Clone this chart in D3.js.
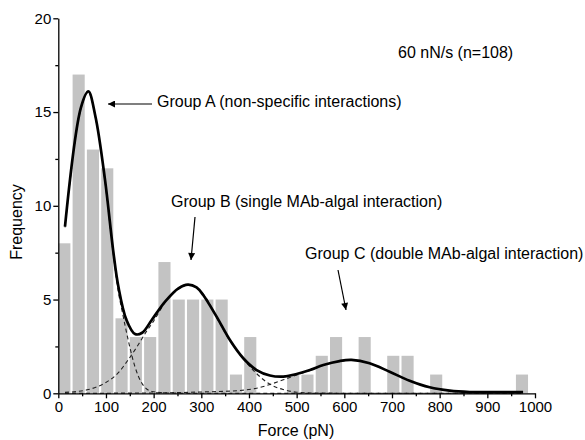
<!DOCTYPE html>
<html>
<head>
<meta charset="utf-8">
<script src="https://cdn.jsdelivr.net/npm/d3@7"></script>
<style>
  html, body { margin: 0; padding: 0; background: #fff; }
  svg { display: block; }
  text { font-family: "Liberation Sans", Arial, sans-serif; fill: #000; }
</style>
</head>
<body>
<svg id="chart" width="585" height="440"></svg>
<script>
// ---- data ----
const binCenters = [15,45,75,105,135,165,195,225,255,285,315,345,375,405,435,465,495,525,555,585,615,645,675,705,735,765,795,825,855,885,915,945,975];
const frequencies = [8,17,13,12,4,3,3,7,5,5,5,5,1,3,0,0,1,1,2,3,0,3,0,2,2,0,1,0,0,0,0,0,1];
const binWidth = 30;

const fitForce = [14,47.6,63,78,98,115,126,143,161,176,196,224,252,272,290,304,332,360,388,416,444,472,500,528,556,590,615,653,695,737,779,821,863,920,975];
const fitFreq  = [8.89,15.25,16.1,14.75,11.38,7.64,5.69,3.91,3.16,3.23,3.91,4.89,5.6,5.8,5.65,5.24,4.09,2.84,1.87,1.24,0.95,0.89,1.03,1.24,1.51,1.72,1.78,1.6,1.15,0.67,0.32,0.14,0.07,0.06,0.07];

const groupAForce = [14,47.6,63,78,98,115,126,133,147,161,175,196,230,300,500,700,975];
const groupAFreq  = [8.85,15.2,16.05,14.7,11.3,7.5,5.4,4.5,2.8,1.4,0.55,0.1,0.02,0,0,0,0];

const groupBForce = [14,40,63,98,126,147,168,185,200,224,252,273,290,307,332,360,391,416,444,472,500,550,700,975];
const groupBFreq  = [0.05,0.1,0.2,0.55,1.1,1.8,2.6,3.3,3.85,4.85,5.55,5.78,5.62,5.2,4.05,2.8,1.75,1.05,0.48,0.2,0.06,0.01,0,0];

const groupCForce = [14,200,300,380,416,444,472,500,528,556,590,615,653,695,737,779,821,863,920,975];
const groupCFreq  = [0,0.02,0.07,0.15,0.27,0.47,0.72,0.98,1.22,1.5,1.7,1.78,1.6,1.15,0.67,0.32,0.14,0.05,0.02,0.01];

const xTicks = [0,100,200,300,400,500,600,700,800,900,1000];
const yTicks = [0,5,10,15,20];

// ---- layout ----
const svg = d3.select("#chart");
const x = d3.scaleLinear().domain([0, 1000]).range([58.3, 535]);
const y = d3.scaleLinear().domain([0, 20]).range([393.3, 18.3]);

// bars
svg.append("g").selectAll("rect")
  .data(binCenters.map((c, i) => ({c, f: frequencies[i]})).filter(d => d.f > 0))
  .join("rect")
  .attr("x", d => x(d.c - binWidth / 2))
  .attr("width", d => x(d.c + binWidth / 2) - x(d.c - binWidth / 2) - 2.2)
  .attr("y", d => y(d.f))
  .attr("height", d => y(0) - y(d.f))
  .attr("fill", "#c3c3c3");

const line = d3.line().x(d => x(d[0])).y(d => y(d[1])).curve(d3.curveMonotoneX);
const fitLine = d3.line().x(d => x(d[0])).y(d => y(d[1])).curve(d3.curveCatmullRom.alpha(0.5));
const zip = (a, b) => a.map((v, i) => [v, b[i]]);

[[groupAForce, groupAFreq], [groupBForce, groupBFreq], [groupCForce, groupCFreq]].forEach(([f, v]) => {
  svg.append("path")
    .attr("d", line(zip(f, v)))
    .attr("fill", "none")
    .attr("stroke", "#222")
    .attr("stroke-width", 1.1)
    .attr("stroke-dasharray", "4,3");
});

svg.append("path")
  .attr("d", fitLine(zip(fitForce, fitFreq)))
  .attr("fill", "none")
  .attr("stroke", "#000")
  .attr("stroke-width", 2.7)
  .attr("stroke-linejoin", "round");

// axes
const xMinor = d3.range(50, 1000, 100);
const yMinor = [2.5, 7.5, 12.5, 17.5];

const gx = svg.append("g").attr("transform", `translate(0,${y(0)})`)
  .call(d3.axisBottom(x).tickValues(xTicks).tickFormat(d3.format("d")).tickSize(5).tickSizeOuter(0).tickPadding(3));
svg.append("g").attr("transform", `translate(0,${y(0)})`)
  .call(d3.axisBottom(x).tickValues(xMinor).tickSize(3).tickFormat("").tickSizeOuter(0))
  .select(".domain").remove();
const gy = svg.append("g").attr("transform", `translate(${x(0)},0)`)
  .call(d3.axisLeft(y).tickValues(yTicks).tickFormat(d3.format("d")).tickSize(5).tickSizeOuter(0).tickPadding(2));
svg.append("g").attr("transform", `translate(${x(0)},0)`)
  .call(d3.axisLeft(y).tickValues(yMinor).tickSize(3).tickFormat("").tickSizeOuter(0))
  .select(".domain").remove();

svg.selectAll(".domain, .tick line").attr("stroke", "#000").attr("stroke-width", 1.3);
gx.selectAll("text").attr("font-size", 15).attr("font-family", "Liberation Sans, Arial, sans-serif");
gy.selectAll("text").attr("font-size", 15).attr("font-family", "Liberation Sans, Arial, sans-serif");

// axis titles
svg.append("text").attr("x", 296).attr("y", 436).attr("text-anchor", "middle")
  .attr("font-size", 16).text("Force (pN)");
svg.append("text").attr("transform", "translate(22,222) rotate(-90)").attr("text-anchor", "middle")
  .attr("font-size", 16).text("Frequency");

// annotations
svg.append("text").attr("x", 398).attr("y", 58).attr("font-size", 16).text("60 nN/s (n=108)");
svg.append("text").attr("x", 157).attr("y", 107).attr("font-size", 16).text("Group A (non-specific interactions)");
svg.append("text").attr("x", 171).attr("y", 207).attr("font-size", 16).text("Group B (single MAb-algal interaction)");
svg.append("text").attr("x", 305).attr("y", 259).attr("font-size", 16).text("Group C (double MAb-algal interaction)");

// arrows
const defs = svg.append("defs");
defs.append("marker").attr("id", "ah").attr("viewBox", "0 0 10 10")
  .attr("refX", 10).attr("refY", 5).attr("markerWidth", 9).attr("markerHeight", 7)
  .attr("markerUnits", "userSpaceOnUse").attr("orient", "auto")
  .append("path").attr("d", "M0,0 L10,5 L0,10 Z").attr("fill", "#000");

const arrows = [[152, 104, 108, 104], [195, 217, 191, 260], [338, 270, 346, 310]];
svg.selectAll("line.arrow").data(arrows).join("line").attr("class", "arrow")
  .attr("x1", d => d[0]).attr("y1", d => d[1]).attr("x2", d => d[2]).attr("y2", d => d[3])
  .attr("stroke", "#000").attr("stroke-width", 1.2).attr("marker-end", "url(#ah)");
</script>
</body>
</html>
